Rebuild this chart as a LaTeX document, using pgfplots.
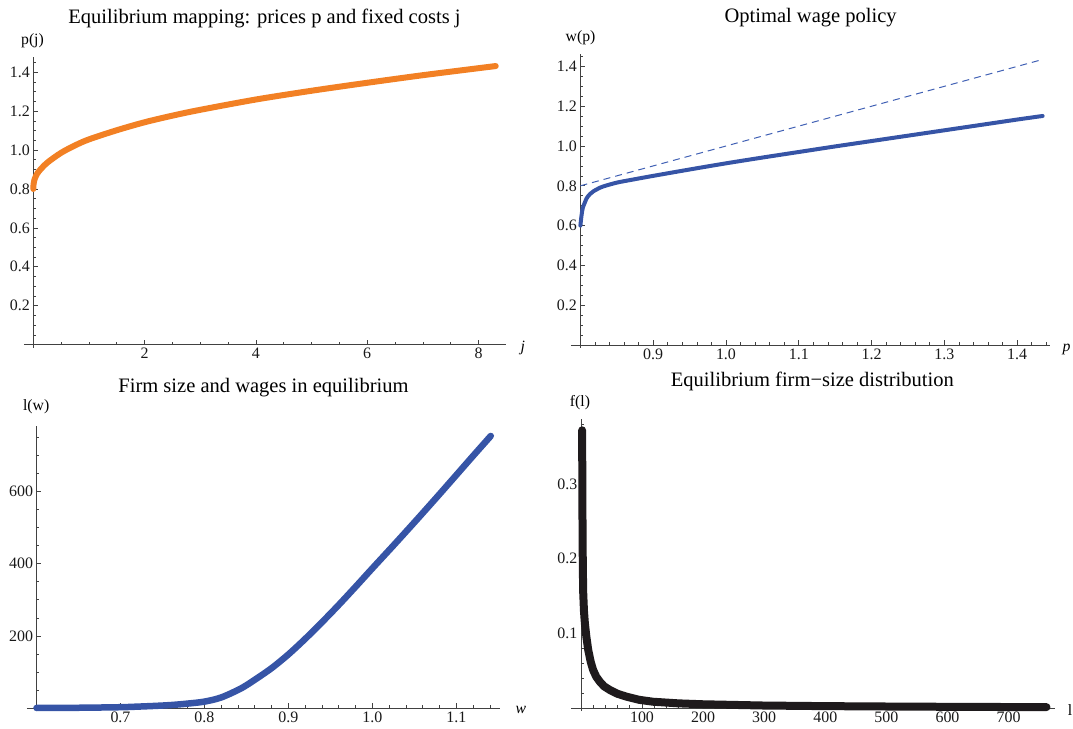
\documentclass[border=0pt]{standalone}
\usepackage{pgfplots}
\pgfplotsset{compat=1.18}
\usepackage{fontspec}
\setmainfont{Liberation Serif}
\definecolor{mmaorange}{RGB}{242,128,36}
\definecolor{mmablue}{RGB}{54,84,166}
\definecolor{mmadash}{RGB}{64,96,180}
\definecolor{mmablack}{RGB}{30,26,28}
\definecolor{axgray}{RGB}{65,65,65}
\pgfplotsset{mma/.style={
  scale only axis, axis lines=left, clip=false, anchor=south west,
  axis line style={axgray, line width=0.8bp, -},
  every outer x axis line/.append style={-, shorten <=-9.5bp},
  every outer y axis line/.append style={-, shorten <=-3bp},
  tick align=inside, major tick length=5bp, minor tick length=3bp,
  every tick/.style={axgray, line width=0.7bp},
  tick label style={font=\fontsize{16}{18}\selectfont, text=black!90},
}}
\begin{document}
\begin{tikzpicture}
\path[use as bounding box] (0bp,0bp) rectangle (1073bp,729bp);
% Panel 1
\begin{axis}[mma, at={(33.3bp,384.4bp)}, width=472.2bp, height=287.1bp,
  xmin=0, xmax=8.485, ymin=0, ymax=1.476,
  xtick={2,4,6,8}, xticklabels={2,4,6,8},
  minor xtick={0.5,1,...,8},
  ytick={0.2,0.4,0.6,0.8,1.0,1.2,1.4}, yticklabels={0.2,0.4,0.6,0.8,1.0,1.2,1.4},
  minor ytick={0.05,0.1,...,1.46}]
\addplot[mmaorange, line width=6bp, line cap=round, line join=round, smooth, tension=0.5] coordinates {
(0,0.80) (0.005,0.826) (0.02,0.847) (0.05,0.868) (0.1,0.891) (0.25,0.935) (0.5,0.986)
(0.75,1.024) (1.0,1.055) (1.5,1.102) (2,1.143) (2.5,1.177) (3,1.207) (4,1.260)
(5,1.305) (6,1.346) (7,1.385) (8,1.421) (8.31,1.432)};
\end{axis}
% Panel 2
\begin{axis}[mma, at={(580.4bp,384bp)}, width=469.5bp, height=290.5bp,
  xmin=0.8, xmax=1.445, ymin=0, ymax=1.46,
  xtick={0.9,1.0,1.1,1.2,1.3,1.4}, xticklabels={0.9,1.0,1.1,1.2,1.3,1.4},
  minor xtick={0.82,0.84,...,1.445},
  ytick={0.2,0.4,0.6,0.8,1.0,1.2,1.4}, yticklabels={0.2,0.4,0.6,0.8,1.0,1.2,1.4},
  minor ytick={0.05,0.1,...,1.46}]
\addplot[mmadash, line width=1bp, dash pattern=on 7bp off 5bp] coordinates {(0.8,0.8) (1.435,1.435)};
\addplot[mmablue, line width=4bp, line cap=round, line join=round, smooth, tension=0.5] coordinates {
(0.8,0.600) (0.8015,0.650) (0.8032,0.688) (0.806,0.715) (0.8087,0.738) (0.813,0.758)
(0.8177,0.772) (0.8245,0.786) (0.8315,0.797) (0.85,0.816) (0.87,0.830) (0.9,0.850)
(0.95,0.882) (1.0,0.913) (1.05,0.942) (1.1,0.970) (1.15,0.998) (1.2,1.025)
(1.25,1.052) (1.3,1.079) (1.35,1.106) (1.4,1.133) (1.435,1.151)};
\end{axis}
% Panel 3
\begin{axis}[mma, at={(36.5bp,20.7bp)}, width=463.5bp, height=282.1bp,
  xmin=0.6, xmax=1.152, ymin=0, ymax=780,
  xtick={0.7,0.8,0.9,1.0,1.1}, xticklabels={0.7,0.8,0.9,1.0,1.1},
  minor xtick={0.62,0.64,...,1.15},
  ytick={200,400,600}, yticklabels={200,400,600},
  minor ytick={50,100,...,750}]
\addplot[mmablue, line width=6.5bp, line cap=round, line join=round, smooth, tension=0.5] coordinates {
(0.6,1) (0.65,1.5) (0.7,3) (0.72,4.6) (0.74,6.5) (0.76,9) (0.78,13) (0.8,18.5)
(0.82,30) (0.8436,55) (0.86,79) (0.88,111) (0.90,149) (0.92,192) (0.94,238)
(0.96,286) (0.98,336) (1.0,387) (1.025,450) (1.05,514) (1.075,579) (1.1,645)
(1.12,698) (1.141,753)};
\end{axis}
% Panel 4
\begin{axis}[mma, at={(580.9bp,21bp)}, width=474.1bp, height=288.7bp,
  xmin=0, xmax=776, ymin=0, ymax=0.3867,
  xtick={100,200,300,400,500,600,700}, xticklabels={100,200,300,400,500,600,700},
  minor xtick={20,40,...,760},
  ytick={0.1,0.2,0.3}, yticklabels={0.1,0.2,0.3},
  minor ytick={0.02,0.04,...,0.38}]
\addplot[mmablack, line width=8bp, line cap=round, line join=round] coordinates {
(2,0.372) (2.2,0.33) (2.5,0.27) (2.8,0.22) (3.3,0.18) (3.8,0.154) (5,0.13) (6.5,0.1135)
(9,0.095) (12,0.0777) (16,0.062) (20,0.0509) (25,0.042) (31,0.0352) (38,0.029)
(47.5,0.0241) (60,0.019) (75,0.0151) (95,0.011) (118,0.0084) (160,0.0062)
(200,0.005) (300,0.0033) (400,0.0025) (500,0.002) (600,0.0016) (700,0.0013) (762,0.0012)};
\end{axis}
% Titles
\node[font=\fontsize{20.6}{24}\selectfont, anchor=base] at (264.5bp,705bp) {Equilibrium mapping: prices p and fixed costs j};
\node[font=\fontsize{20.6}{24}\selectfont, anchor=base] at (810.6bp,706bp) {Optimal wage policy};
\node[font=\fontsize{20.6}{24}\selectfont, anchor=base] at (263.5bp,336bp) {Firm size and wages in equilibrium};
\node[font=\fontsize{20.6}{24}\selectfont, anchor=base] at (812.3bp,342bp) {Equilibrium firm−size distribution};
% Axis labels
\node[font=\fontsize{15.8}{18}\selectfont\itshape, anchor=center] at (522.7bp,381.5bp) {j};
\node[font=\fontsize{15.8}{18}\selectfont\itshape, anchor=center] at (1066.5bp,380bp) {p};
\node[font=\fontsize{15.8}{18}\selectfont\itshape, anchor=center] at (520.8bp,19bp) {w};
\node[font=\fontsize{15.8}{18}\selectfont, anchor=center] at (1070bp,19bp) {l};
\node[font=\fontsize{15.8}{18}\selectfont, anchor=center] at (32.5bp,688bp) {p(j)};
\node[font=\fontsize{15.8}{18}\selectfont, anchor=center] at (580.5bp,691.5bp) {w(p)};
\node[font=\fontsize{15.8}{18}\selectfont, anchor=center] at (36.2bp,322.3bp) {l(w)};
\node[font=\fontsize{15.8}{18}\selectfont, anchor=center] at (580bp,326.5bp) {f(l)};
\end{tikzpicture}
\end{document}
